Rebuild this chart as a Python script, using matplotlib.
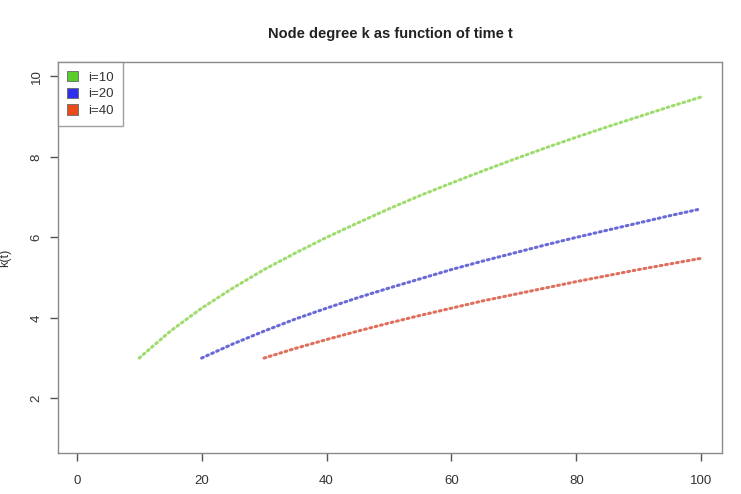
import matplotlib.pyplot as plt
from matplotlib.patches import Patch

plt.rcParams['font.family'] = ['Liberation Sans', 'DejaVu Sans']

# k(t) every 5 time steps
t10 = [10, 15, 20, 25, 30, 35, 40, 45, 50, 55, 60, 65, 70, 75, 80, 85, 90, 95, 100]
k10 = [3.00, 3.67, 4.24, 4.74, 5.20, 5.61, 6.00, 6.36, 6.71, 7.04, 7.35, 7.65,
       7.94, 8.22, 8.49, 8.75, 9.00, 9.25, 9.49]
t20 = [20, 25, 30, 35, 40, 45, 50, 55, 60, 65, 70, 75, 80, 85, 90, 95, 100]
k20 = [3.00, 3.35, 3.67, 3.97, 4.24, 4.50, 4.74, 4.97, 5.20, 5.41, 5.61, 5.81,
       6.00, 6.18, 6.36, 6.54, 6.71]
t40 = [30, 35, 40, 45, 50, 55, 60, 65, 70, 75, 80, 85, 90, 95, 100]
k40 = [3.00, 3.24, 3.46, 3.67, 3.87, 4.06, 4.24, 4.42, 4.58, 4.74, 4.90, 5.05,
       5.20, 5.34, 5.48]

labels = ['i=10', 'i=20', 'i=40']
line_cols = ['#9fdc6e', '#6a6ad6', '#e0705e']
box_cols = ['#5ccc2a', '#2f2fee', '#ea4b1c']

fig = plt.figure(figsize=(7.41, 4.94), dpi=100)
ax = fig.add_axes([0.0783, 0.083, 0.8957, 0.7915])

for t, k, c in zip([t10, t20, t40], [k10, k20, k40], line_cols):
    ax.plot(t, k, color=c, lw=2.2, linestyle=(0, (0.6, 1.2)),
            dash_capstyle='round')

ax.set_xlim(-3, 103.3)
ax.set_ylim(0.64, 10.36)
ax.set_xticks([0, 20, 40, 60, 80, 100])
ax.set_yticks([2, 4, 6, 8, 10])
for s in ax.spines.values():
    s.set_color('#8a8a8a')
    s.set_linewidth(1.0)
ax.tick_params(colors='#555555', labelcolor='#333333', labelsize=9.5,
               length=6, width=1.0)
ax.tick_params(axis='x', pad=10)
ax.tick_params(axis='y', pad=5, labelrotation=90)
for lab in ax.get_yticklabels():
    lab.set_va('center')

ax.set_ylabel('k(t)', fontsize=9, color='#333333', labelpad=14)
ax.set_title('Node degree k as function of time t', fontsize=10.5,
             fontweight='bold', color='#222222', pad=17)

handles = [Patch(facecolor=c, edgecolor='#666666', lw=0.6) for c in box_cols]
leg = ax.legend(handles, labels, loc='upper left', borderaxespad=0,
                fancybox=False, edgecolor='#888888', fontsize=9.5,
                handlelength=0.85, handleheight=0.8, handletextpad=0.75,
                labelspacing=0.3, borderpad=0.7)
leg.get_frame().set_linewidth(1.0)
for txt in leg.get_texts():
    txt.set_color('#333333')

fig.savefig('out.png', dpi=100)
